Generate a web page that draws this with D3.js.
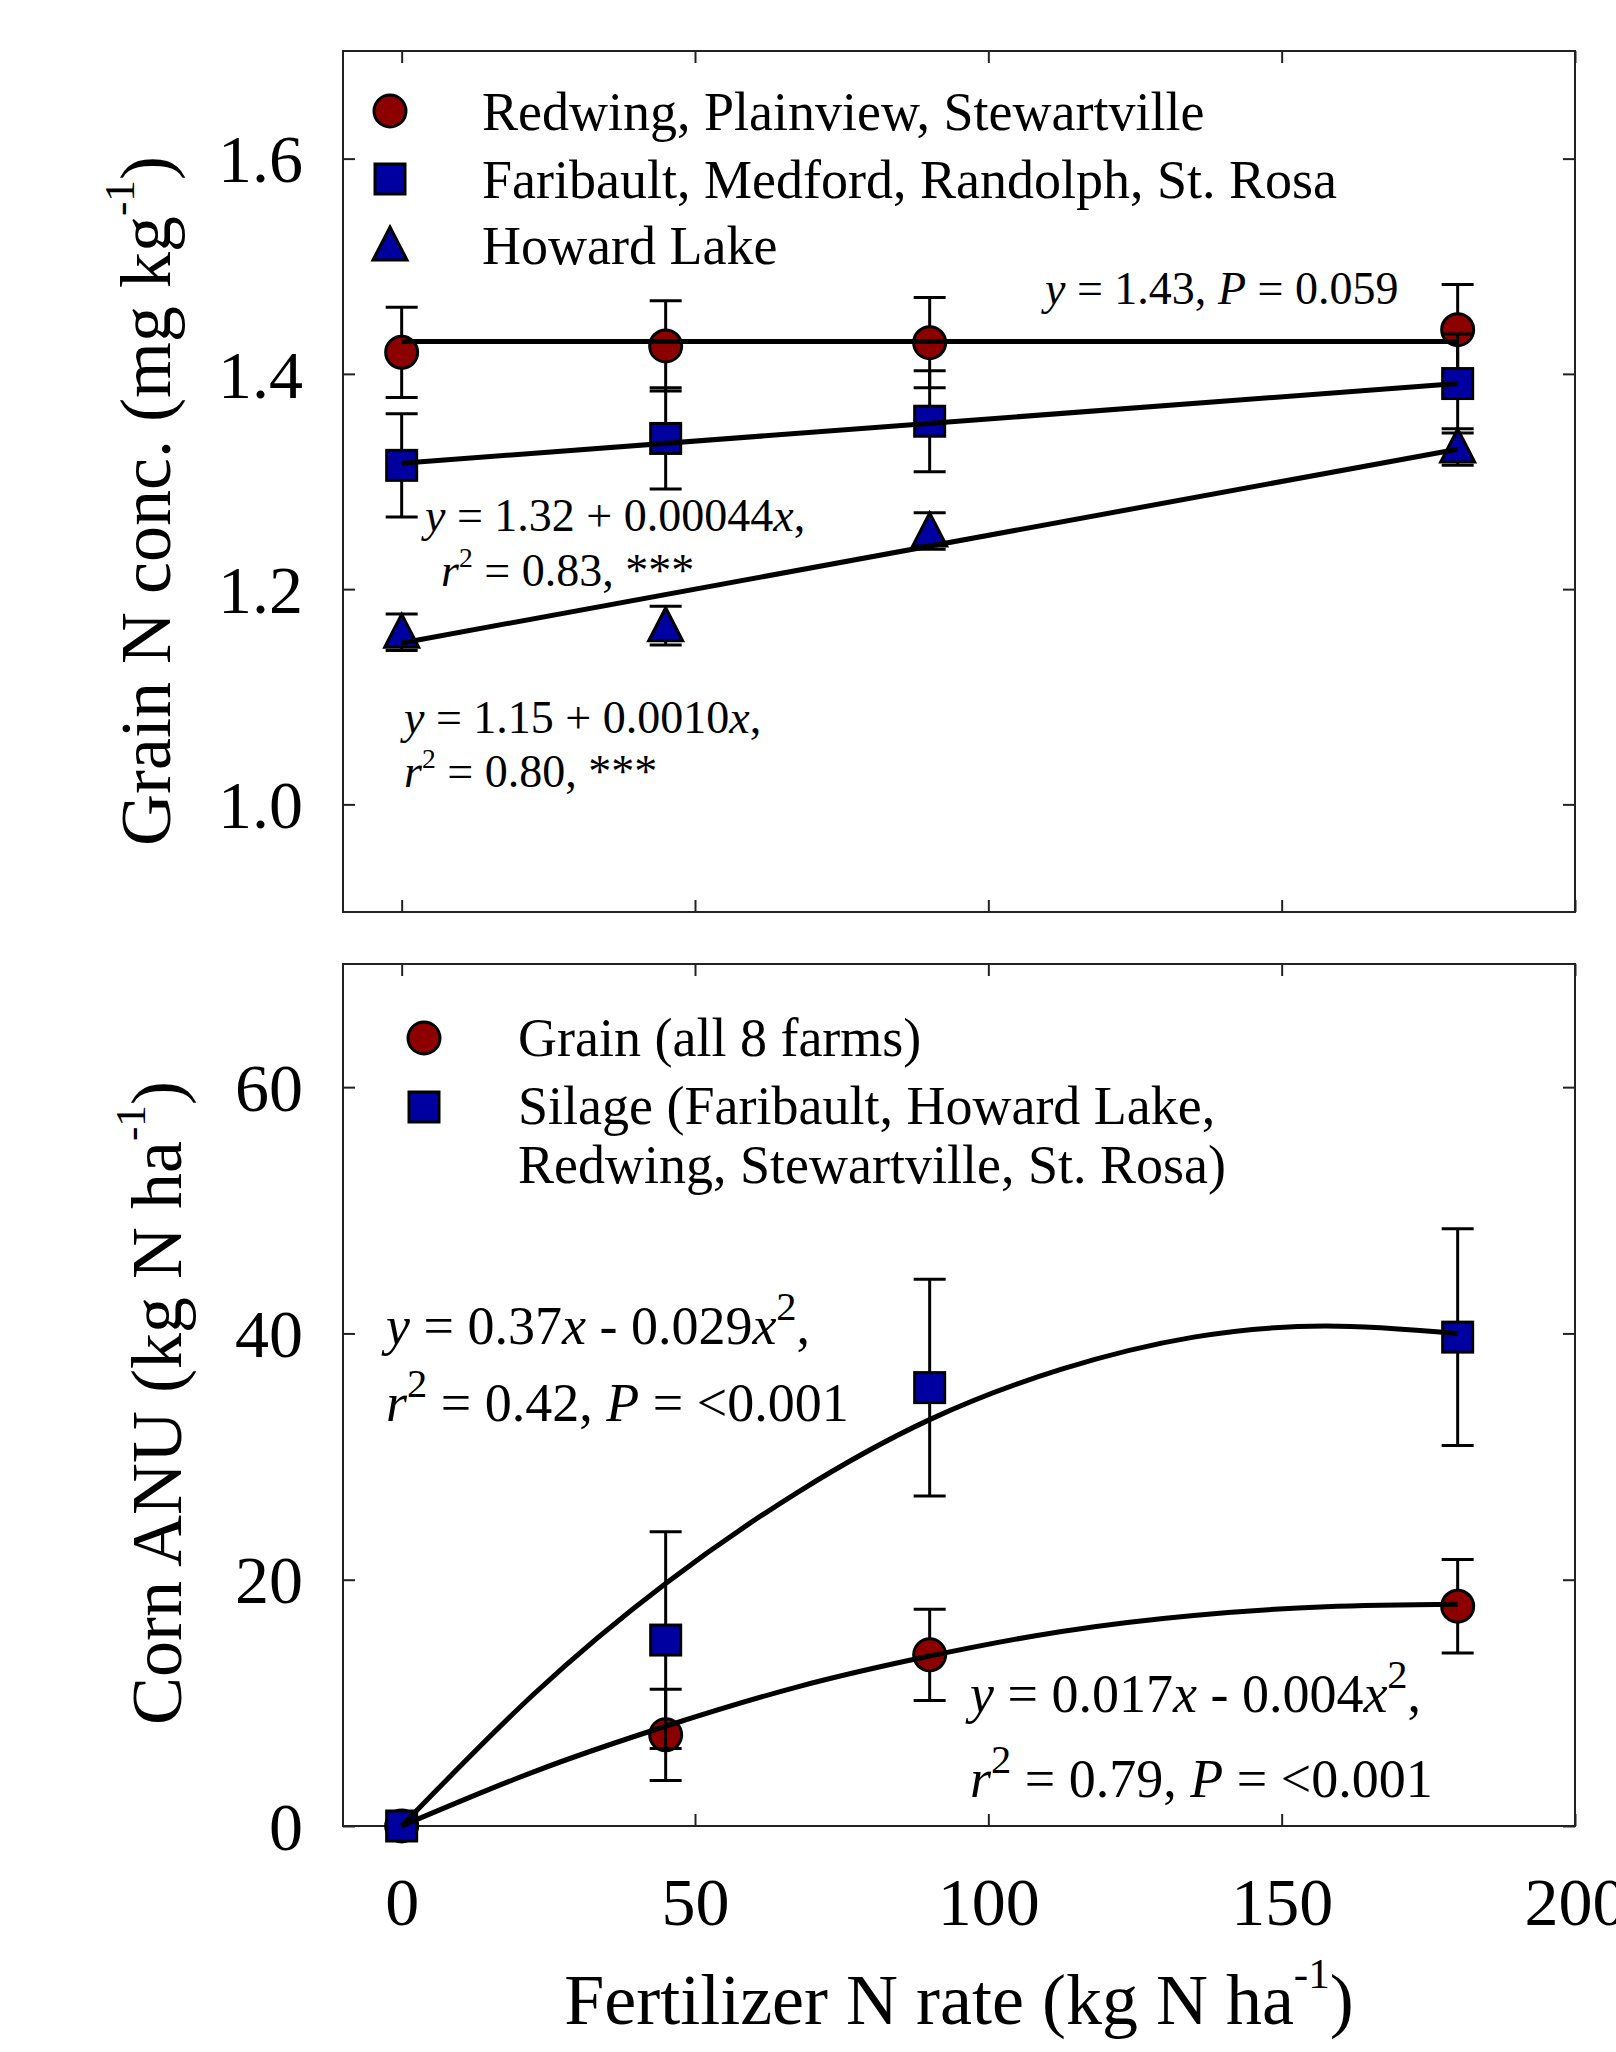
<!DOCTYPE html>
<html>
<head>
<meta charset="utf-8">
<script src="https://cdn.jsdelivr.net/npm/d3@7"></script>
<style>
  body { margin: 0; background: #fff; }
  svg text { font-family: "Liberation Serif", "Times New Roman", serif; fill: #000; }
</style>
</head>
<body>
<div class="chart"></div>
<script>
var svgWidth = 1616;
var svgHeight = 2052;

// fertilizer N rates (kg N/ha)
var rates = [0, 45, 90, 180];
var xTicks = [0, 50, 100, 150, 200];

// top panel: grain N concentration
var topYTicks = [1.0, 1.2, 1.4, 1.6];
var topLegend = ["Redwing, Plainview, Stewartville", "Faribault, Medford, Randolph, St. Rosa", "Howard Lake"];
var redMean = [1.420, 1.426, 1.429, 1.441];
var redErr = [0.042, 0.042, 0.042, 0.042];
var blueMean = [1.315, 1.340, 1.356, 1.391];
var blueErr = [0.048, 0.047, 0.047, 0.046];
var howardMean = [1.160, 1.166, 1.254, 1.332];
var howardErr = [0.017, 0.018, 0.017, 0.017];

var fitEnds = [0, 180];
var redFit = [1.43, 1.43];
var blueFit = [1.317, 1.391];
var howardFit = [1.15, 1.33];

// bottom panel: apparent N uptake
var botYTicks = [0, 20, 40, 60];
var botLegend = ["Grain (all 8 farms)", "Silage (Faribault, Howard Lake,", "Redwing, Stewartville, St. Rosa)"];
var grainMean = [0, 7.4, 13.9, 17.85];
var grainErr = [0.3, 3.7, 3.7, 3.8];
var silageMean = [0, 15.1, 35.6, 39.7];
var silageErr = [0.4, 8.8, 8.8, 8.8];

// quadratic fit curves
var fitRates = [0, 22.5, 45, 67.5, 90, 112.5, 135, 157.5, 180];
var grainFit = [0, 4.4, 8.1, 11.3, 13.8, 15.8, 17.1, 17.8, 18.0];
var silageFit = [0, 10.7, 19.7, 27.1, 33.0, 37.1, 39.7, 40.6, 40.0];

var RED = "#8c0000";
var BLUE = "#0000a0";

var left = 343, right = 1575;

var svg = d3.select(".chart")
  .append("svg")
  .attr("width", svgWidth)
  .attr("height", svgHeight);

var x = d3.scaleLinear().domain([-10, 200]).range([left, right]);
var yTop = d3.scaleLinear().domain([0.9, 1.7]).range([912, 51]);
var yBot = d3.scaleLinear().domain([0, 70]).range([1826, 964]);

// text with italic / superscript pieces
function richText(g, px, py, parts, size) {
  var t = g.append("text").attr("x", px).attr("y", py).style("font-size", size + "px");
  var shift = 0;
  parts.forEach(function(p) {
    var s = t.append("tspan").text(p.t);
    if (p.i) s.style("font-style", "italic");
    var want = p.sup ? -size * (p.up || 0.42) : 0;
    if (want !== shift) { s.attr("dy", want - shift); shift = want; }
    if (p.sup) s.style("font-size", (p.s || 0.6) * size + "px");
  });
  return t;
}

function drawFrame(y, yTicks, fmt, showX) {
  var top = y.range()[1], bottom = y.range()[0];
  var g = svg.append("g");

  var tickStyle = function(sel) {
    sel.select(".domain").remove();
    sel.selectAll("line").attr("stroke", "#222").attr("stroke-width", 2);
    sel.selectAll("text")
      .attr("font-family", null)
      .style("font-size", "68px")
      .attr("fill", "#000");
  };

  g.append("g")
    .attr("transform", `translate(0, ${bottom})`)
    .call(d3.axisBottom(x).tickValues(xTicks).tickSize(-12).tickPadding(51)
      .tickFormat(showX ? d3.format("d") : ""))
    .call(tickStyle);

  g.append("g")
    .attr("transform", `translate(0, ${top})`)
    .call(d3.axisTop(x).tickValues(xTicks).tickSize(-12).tickFormat(""))
    .call(tickStyle);

  var la = g.append("g")
    .attr("transform", `translate(${left}, 0)`)
    .call(d3.axisLeft(y).tickValues(yTicks).tickSize(-12).tickPadding(40).tickFormat(fmt))
    .call(tickStyle);
  la.selectAll("text").attr("dy", "0.34em");

  g.append("g")
    .attr("transform", `translate(${right}, 0)`)
    .call(d3.axisRight(y).tickValues(yTicks).tickSize(-12).tickFormat(""))
    .call(tickStyle);

  g.append("rect")
    .attr("x", left).attr("y", top)
    .attr("width", right - left).attr("height", bottom - top)
    .attr("fill", "none").attr("stroke", "#222").attr("stroke-width", 2);
}

function marker(g, shape, cx, cy, fill) {
  if (shape === "circle") {
    g.append("circle").attr("cx", cx).attr("cy", cy).attr("r", 16)
      .attr("fill", fill).attr("stroke", "#000").attr("stroke-width", 3);
  } else if (shape === "square") {
    g.append("rect").attr("x", cx - 15).attr("y", cy - 15).attr("width", 30).attr("height", 30)
      .attr("fill", fill).attr("stroke", "#000").attr("stroke-width", 3);
  } else {
    g.append("path").attr("d", `M${cx},${cy - 18} L${cx + 17},${cy + 15} L${cx - 17},${cy + 15} Z`)
      .attr("fill", fill).attr("stroke", "#000").attr("stroke-width", 3);
  }
}

function drawSeries(y, means, errs, shape, fill) {
  var g = svg.append("g");
  rates.forEach(function(r, i) {
    var cx = x(r);
    var y1 = y(means[i] + errs[i]), y2 = y(means[i] - errs[i]);
    g.append("line").attr("x1", cx).attr("x2", cx).attr("y1", y1).attr("y2", y2)
      .attr("stroke", "#000").attr("stroke-width", 3);
    [y1, y2].forEach(function(yy) {
      g.append("line").attr("x1", cx - 16).attr("x2", cx + 16).attr("y1", yy).attr("y2", yy)
        .attr("stroke", "#000").attr("stroke-width", 3);
    });
  });
  rates.forEach(function(r, i) {
    marker(g, shape, x(r), y(means[i]), fill);
  });
}

function drawFit(y, xs, ys, width, curve) {
  var line = d3.line()
    .x(function(d) { return x(d[0]); })
    .y(function(d) { return y(d[1]); })
    .curve(curve || d3.curveLinear);
  svg.append("path")
    .datum(xs.map(function(v, i) { return [v, ys[i]]; }))
    .attr("d", line)
    .attr("fill", "none")
    .attr("stroke", "#000")
    .attr("stroke-width", width);
}

// ---------- top panel ----------
drawFrame(yTop, topYTicks, d3.format(".1f"), false);
drawSeries(yTop, redMean, redErr, "circle", RED);
drawSeries(yTop, blueMean, blueErr, "square", BLUE);
drawSeries(yTop, howardMean, howardErr, "triangle", BLUE);
drawFit(yTop, fitEnds, redFit, 5);
drawFit(yTop, fitEnds, blueFit, 5);
drawFit(yTop, fitEnds, howardFit, 5);

var legTop = svg.append("g");
var legShapes = ["circle", "square", "triangle"];
var legFills = [RED, BLUE, BLUE];
var legRows = [111, 179, 245];
topLegend.forEach(function(name, i) {
  marker(legTop, legShapes[i], 390, legRows[i], legFills[i]);
  legTop.append("text").attr("x", 482).attr("y", legRows[i] + 19)
    .style("font-size", "54px").text(name);
});

var ann = svg.append("g");
richText(ann, 1045, 304, [{t: "y", i: true}, {t: " = 1.43, "}, {t: "P", i: true}, {t: " = 0.059"}], 46);
richText(ann, 425, 531, [{t: "y", i: true}, {t: " = 1.32 + 0.00044"}, {t: "x", i: true}, {t: ","}], 46);
richText(ann, 441, 586, [{t: "r", i: true}, {t: "2", sup: true}, {t: " = 0.83, ***"}], 46);
richText(ann, 404, 733, [{t: "y", i: true}, {t: " = 1.15 + 0.0010"}, {t: "x", i: true}, {t: ","}], 46);
richText(ann, 404, 787, [{t: "r", i: true}, {t: "2", sup: true}, {t: " = 0.80, ***"}], 46);

// y title, top
richText(svg, 0, 0, [{t: "Grain N conc. (mg kg"}, {t: "-1", sup: true, up: 0.5}, {t: ")"}], 72)
  .attr("text-anchor", "middle")
  .attr("transform", "translate(170, 501) rotate(-90)");

// ---------- bottom panel ----------
drawFrame(yBot, botYTicks, d3.format("d"), true);
drawSeries(yBot, grainMean, grainErr, "circle", RED);
drawSeries(yBot, silageMean, silageErr, "square", BLUE);
drawFit(yBot, fitRates, silageFit, 5, d3.curveNatural);
drawFit(yBot, fitRates, grainFit, 5, d3.curveNatural);

var legBot = svg.append("g");
marker(legBot, "circle", 424, 1038, RED);
marker(legBot, "square", 424, 1107, BLUE);
legBot.append("text").attr("x", 518).attr("y", 1056).style("font-size", "54px").text(botLegend[0]);
legBot.append("text").attr("x", 518).attr("y", 1124).style("font-size", "54px").text(botLegend[1]);
legBot.append("text").attr("x", 518).attr("y", 1183).style("font-size", "54px").text(botLegend[2]);

richText(ann, 386, 1344, [{t: "y", i: true}, {t: " = 0.37"}, {t: "x", i: true}, {t: " - 0.029"}, {t: "x", i: true}, {t: "2", sup: true, s: 0.75, up: 0.45}, {t: ","}], 54);
richText(ann, 386, 1421, [{t: "r", i: true}, {t: "2", sup: true, s: 0.75, up: 0.45}, {t: " = 0.42, "}, {t: "P", i: true}, {t: " = <0.001"}], 54);
richText(ann, 970, 1712, [{t: "y", i: true}, {t: " = 0.017"}, {t: "x", i: true}, {t: " - 0.004"}, {t: "x", i: true}, {t: "2", sup: true, s: 0.75, up: 0.45}, {t: ","}], 54);
richText(ann, 970, 1797, [{t: "r", i: true}, {t: "2", sup: true, s: 0.75, up: 0.45}, {t: " = 0.79, "}, {t: "P", i: true}, {t: " = <0.001"}], 54);

richText(svg, 0, 0, [{t: "Corn ANU (kg N ha"}, {t: "-1", sup: true, up: 0.5}, {t: ")"}], 72)
  .attr("text-anchor", "middle")
  .attr("transform", "translate(181, 1403) rotate(-90)");

richText(svg, 0, 0, [{t: "Fertilizer N rate (kg N ha"}, {t: "-1", sup: true, up: 0.5}, {t: ")"}], 72)
  .attr("text-anchor", "middle")
  .attr("transform", "translate(959, 2024)");
</script>
</body>
</html>
